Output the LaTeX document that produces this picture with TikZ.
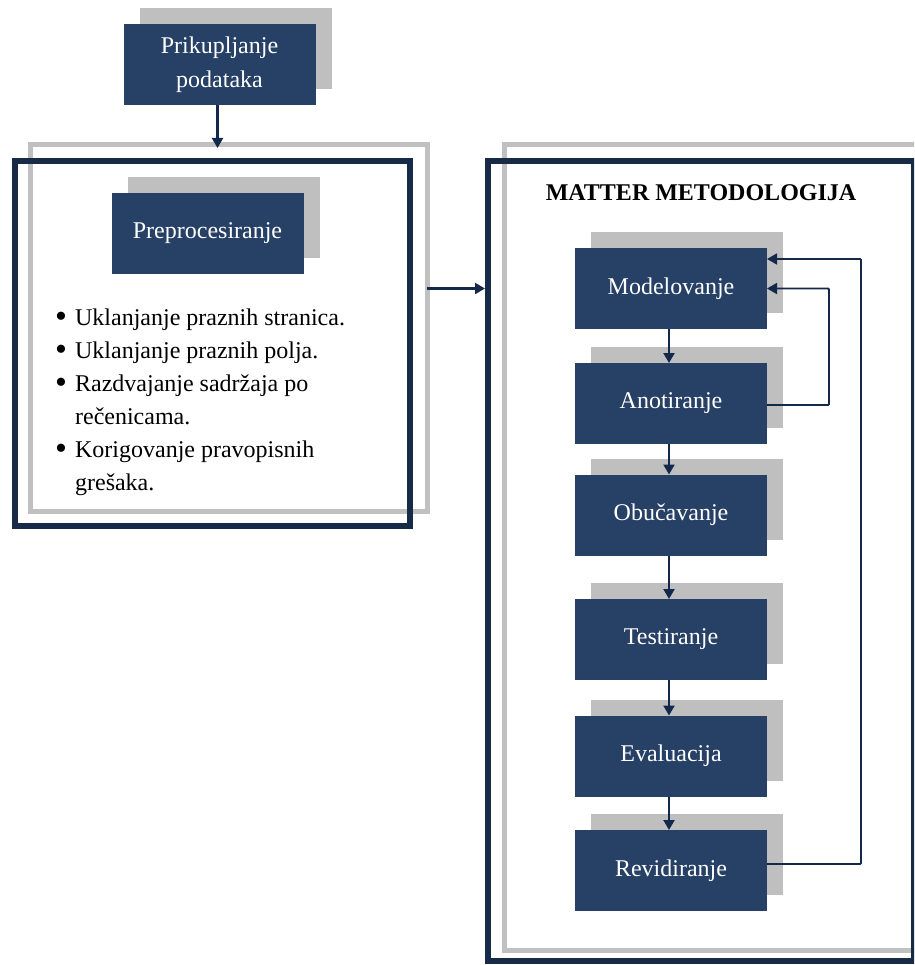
\documentclass[tikz,border=0pt]{standalone}
\usepackage{fontspec}
\setmainfont{Liberation Serif}
\usetikzlibrary{arrows.meta,shadows}

\definecolor{boxblue}{HTML}{264066}
\definecolor{framenavy}{HTML}{172A48}
\definecolor{linenavy}{HTML}{14284B}
\definecolor{shadowgray}{HTML}{BFBFBF}
\definecolor{framegray}{HTML}{C0C0C0}

\newcommand{\listdot}{\raisebox{-2pt}{\fontsize{34}{33}\selectfont\textbullet}}

\tikzset{
  stepbox/.style={fill=boxblue, text=white, minimum width=192pt, minimum height=81pt,
    inner sep=0pt, outer sep=0pt, align=center,
    font=\fontsize{24}{34}\selectfont,
    general shadow={shadow xshift=16pt, shadow yshift=16pt, fill=shadowgray}},
  darkframe/.style={draw=framenavy, line width=6pt, inner sep=0pt, outer sep=0pt},
  grayframe/.style={draw=framegray, line width=5pt, inner sep=0pt, outer sep=0pt},
  arr/.style={draw=linenavy, line width=2.2pt, -{Triangle[length=10pt,width=11pt]}},
}

\begin{document}
\begin{tikzpicture}[x=1pt,y=-1pt]
\useasboundingbox (0,0) rectangle (914,965);
\clip (0,0) rectangle (914,965);

% left panel: preprocessing frames
\node[grayframe, minimum width=397pt, minimum height=366pt] (prepgray) at (228.5,328) {};
\node[darkframe, minimum width=395pt, minimum height=365pt] (prepdark) at (212.5,343.5) {};

% right panel: MATTER frames
\node[grayframe, minimum width=426pt, minimum height=805pt] (mattergray) at (717,547.5) {};
\node[darkframe, minimum width=426pt, minimum height=800pt] (matterdark) at (701,561) {};

% data collection
\node[stepbox] (prik) at (219.5,64.5) {Prikupljanje\\podataka};

% preprocessing
\node[stepbox] (prep) at (207.5,233.5) {Preprocesiranje};
\node[anchor=north west, inner sep=0pt, align=left] (steps) at (55,302)
  {\fontsize{24}{33}\selectfont
   \begin{tabular}{@{}l@{\hspace{8pt}}l@{}}
   \listdot & Uklanjanje praznih stranica.\\
   \listdot & Uklanjanje praznih polja.\\
   \listdot & Razdvajanje sadržaja po\\
            & rečenicama.\\
   \listdot & Korigovanje pravopisnih\\
            & grešaka.
   \end{tabular}};

% MATTER methodology
\node[font=\fontsize{24}{28}\selectfont\bfseries] (title) at (701,193) {MATTER METODOLOGIJA};
\node[stepbox] (mod) at (671,288.5) {Modelovanje};
\node[stepbox] (ano) at (671,403.5) {Anotiranje};
\node[stepbox] (obu) at (671,515) {Obučavanje};
\node[stepbox] (tes) at (671,639.5) {Testiranje};
\node[stepbox] (eva) at (671,756) {Evaluacija};
\node[stepbox] (rev) at (671,870.5) {Revidiranje};

% connectors
\draw[arr, shorten >=-3pt] ([xshift=-2pt]prik.south) -- ([xshift=-2pt]prik.south |- prepgray.north);
\draw[arr, shorten >=3pt] (prepgray.east |- mod) -- (matterdark.west |- mod);

\draw[arr] ([xshift=-2pt]mod.south) -- ([xshift=-2pt]ano.north);
\draw[arr] ([xshift=-2pt]ano.south) -- ([xshift=-2pt]obu.north);
\draw[arr] ([xshift=-2pt]obu.south) -- ([xshift=-2pt]tes.north);
\draw[arr] ([xshift=-2pt]tes.south) -- ([xshift=-2pt]eva.north);
\draw[arr] ([xshift=-2pt]eva.south) -- ([xshift=-2pt]rev.north);

% feedback loops
\draw[arr, line width=1.8pt, rounded corners=1pt] ([yshift=-1.5pt]ano.east) -- ++(62,0) |- (mod.east);
\draw[arr, line width=1.8pt, rounded corners=1pt] ([yshift=6.5pt]rev.east) -- ++(94,0) |- ([yshift=29.5pt]mod.east);
\end{tikzpicture}
\end{document}
